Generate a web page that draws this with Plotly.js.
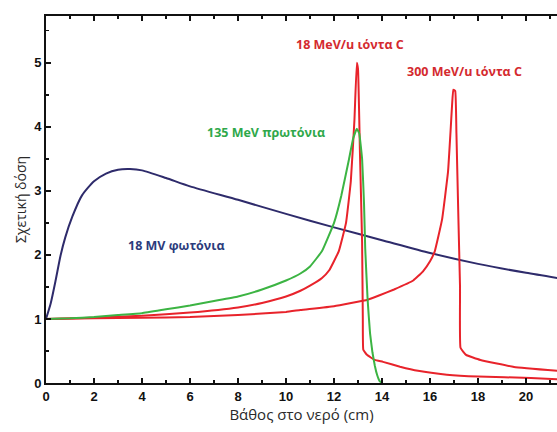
<!DOCTYPE html>
<html>
<head>
<meta charset="utf-8">
<script src="https://cdn.plot.ly/plotly-3.0.1.min.js"></script>
<style>html,body{margin:0;padding:0;background:#fff;}#chart{width:557px;height:432px;}</style>
</head>
<body>
<div id="chart"></div>
<script>
// Depth (cm) and relative dose values
var photonX = [0, 0.2, 0.4, 0.6, 0.8, 1.1, 1.5, 2, 2.5, 3, 3.5, 4, 5, 6, 8, 10, 12, 14, 16, 18, 20, 21.3];
var photonY = [1.0, 1.25, 1.6, 1.98, 2.27, 2.6, 2.93, 3.15, 3.27, 3.33, 3.34, 3.32, 3.2, 3.07, 2.86, 2.64, 2.43, 2.23, 2.03, 1.86, 1.72, 1.64];

var protonX = [0, 1, 2, 3, 4, 5, 6, 7, 8, 9, 10, 10.6, 11, 11.5, 12, 12.3, 12.6, 12.8, 12.95, 13.05, 13.17, 13.25, 13.3, 13.4, 13.5, 13.6, 13.7, 13.8, 13.9, 14.0];
var protonY = [1.0, 1.01, 1.03, 1.06, 1.09, 1.15, 1.21, 1.28, 1.35, 1.46, 1.6, 1.71, 1.82, 2.06, 2.5, 2.92, 3.45, 3.82, 3.97, 3.9, 3.5, 2.8, 2.1, 1.3, 0.78, 0.48, 0.27, 0.12, 0.03, 0.0];

var carbon18X = [0, 2, 4, 6, 8, 9, 10, 10.6, 11, 11.5, 11.8, 12.2, 12.5, 12.7, 12.85, 12.95, 13.0, 13.08, 13.17, 13.2, 13.22, 13.37, 13.7, 14.04, 14.75, 15.5, 16.7, 18, 20.2, 21.3];
var carbon18Y = [1.0, 1.02, 1.05, 1.1, 1.18, 1.25, 1.35, 1.44, 1.52, 1.64, 1.76, 2.06, 2.5, 3.15, 4.1, 5.0, 4.9, 3.6, 2.2, 1.0, 0.52, 0.44, 0.36, 0.33, 0.255, 0.19, 0.13, 0.1, 0.08, 0.06];

var carbon300X = [0, 2, 4, 6, 8, 10, 10.6, 12, 13.4, 13.9, 14.5, 15.3, 15.7, 16.0, 16.2, 16.5, 16.75, 16.85, 16.92, 16.97, 17.05, 17.1, 17.18, 17.25, 17.27, 17.5, 18.1, 19.5, 21.3];
var carbon300Y = [1.0, 1.01, 1.02, 1.03, 1.06, 1.11, 1.14, 1.2, 1.3, 1.37, 1.46, 1.6, 1.74, 1.9, 2.06, 2.55, 3.3, 3.9, 4.35, 4.58, 4.56, 3.9, 2.6, 1.5, 0.55, 0.44, 0.36, 0.25, 0.19];

var xTickVals = [0, 2, 4, 6, 8, 10, 12, 14, 16, 18, 20];
var yTickVals = [0, 1, 2, 3, 4, 5];

var labels = [
  {text: '18 MeV/u ιόντα C', x: 12.67, y: 5.28, color: '#d42a2f'},
  {text: '300 MeV/u ιόντα C', x: 17.42, y: 4.86, color: '#d42a2f'},
  {text: '135 MeV πρωτόνια', x: 9.17, y: 3.91, color: '#2fa84a'},
  {text: '18 MV φωτόνια', x: 5.42, y: 2.14, color: '#2b3b7c'}
];

var traces = [
  {x: photonX, y: photonY, mode: 'lines', line: {color: '#2e2b6b', width: 2, shape: 'spline', smoothing: 0.6}},
  {x: carbon300X, y: carbon300Y, mode: 'lines', line: {color: '#e8232b', width: 2, shape: 'spline', smoothing: 0.3}},
  {x: carbon18X, y: carbon18Y, mode: 'lines', line: {color: '#e8232b', width: 2, shape: 'spline', smoothing: 0.3}},
  {x: protonX, y: protonY, mode: 'lines', line: {color: '#3cb443', width: 2, shape: 'spline', smoothing: 0.3}}
];

var layout = {
  width: 557, height: 432,
  margin: {l: 46, r: 0, t: 16, b: 49},
  paper_bgcolor: '#ffffff', plot_bgcolor: '#ffffff',
  showlegend: false,
  xaxis: {
    range: [0, 21.29], tickvals: xTickVals, ticktext: xTickVals.map(String),
    ticks: 'inside', ticklen: 5, tickwidth: 2, tickcolor: '#111',
    minor: {dtick: 1, ticks: 'inside', ticklen: 3, tickwidth: 1.5, tickcolor: '#111'},
    showline: true, linecolor: '#111', linewidth: 2, mirror: 'ticks',
    showgrid: false, zeroline: false,
    tickfont: {family: 'Liberation Sans, Arial, sans-serif', size: 13, color: '#111', weight: 'bold'},
    title: {text: 'Βάθος στο νερό (cm)', font: {family: 'Open Sans, sans-serif', size: 15, color: '#2a2a2a'}, standoff: 6}
  },
  yaxis: {
    range: [0, 5.73], tickvals: yTickVals, ticktext: yTickVals.map(String),
    ticks: 'inside', ticklen: 5, tickwidth: 2, tickcolor: '#111',
    minor: {dtick: 0.5, ticks: 'inside', ticklen: 3, tickwidth: 1.5, tickcolor: '#111'},
    showline: true, linecolor: '#111', linewidth: 2,
    showgrid: false, zeroline: false,
    tickfont: {family: 'Liberation Sans, Arial, sans-serif', size: 13, color: '#111', weight: 'bold'},
    title: {text: 'Σχετική δόση', font: {family: 'Open Sans, sans-serif', size: 14, color: '#2a2a2a'}, standoff: 4}
  },
  annotations: labels.map(function (l) {
    return {text: l.text, x: l.x, y: l.y, xref: 'x', yref: 'y', showarrow: false,
      font: {family: 'Open Sans, sans-serif', size: 12.5, color: l.color, weight: 'bold'}};
  })
};

Plotly.newPlot('chart', traces, layout, {displayModeBar: false, staticPlot: true});
</script>
</body>
</html>
